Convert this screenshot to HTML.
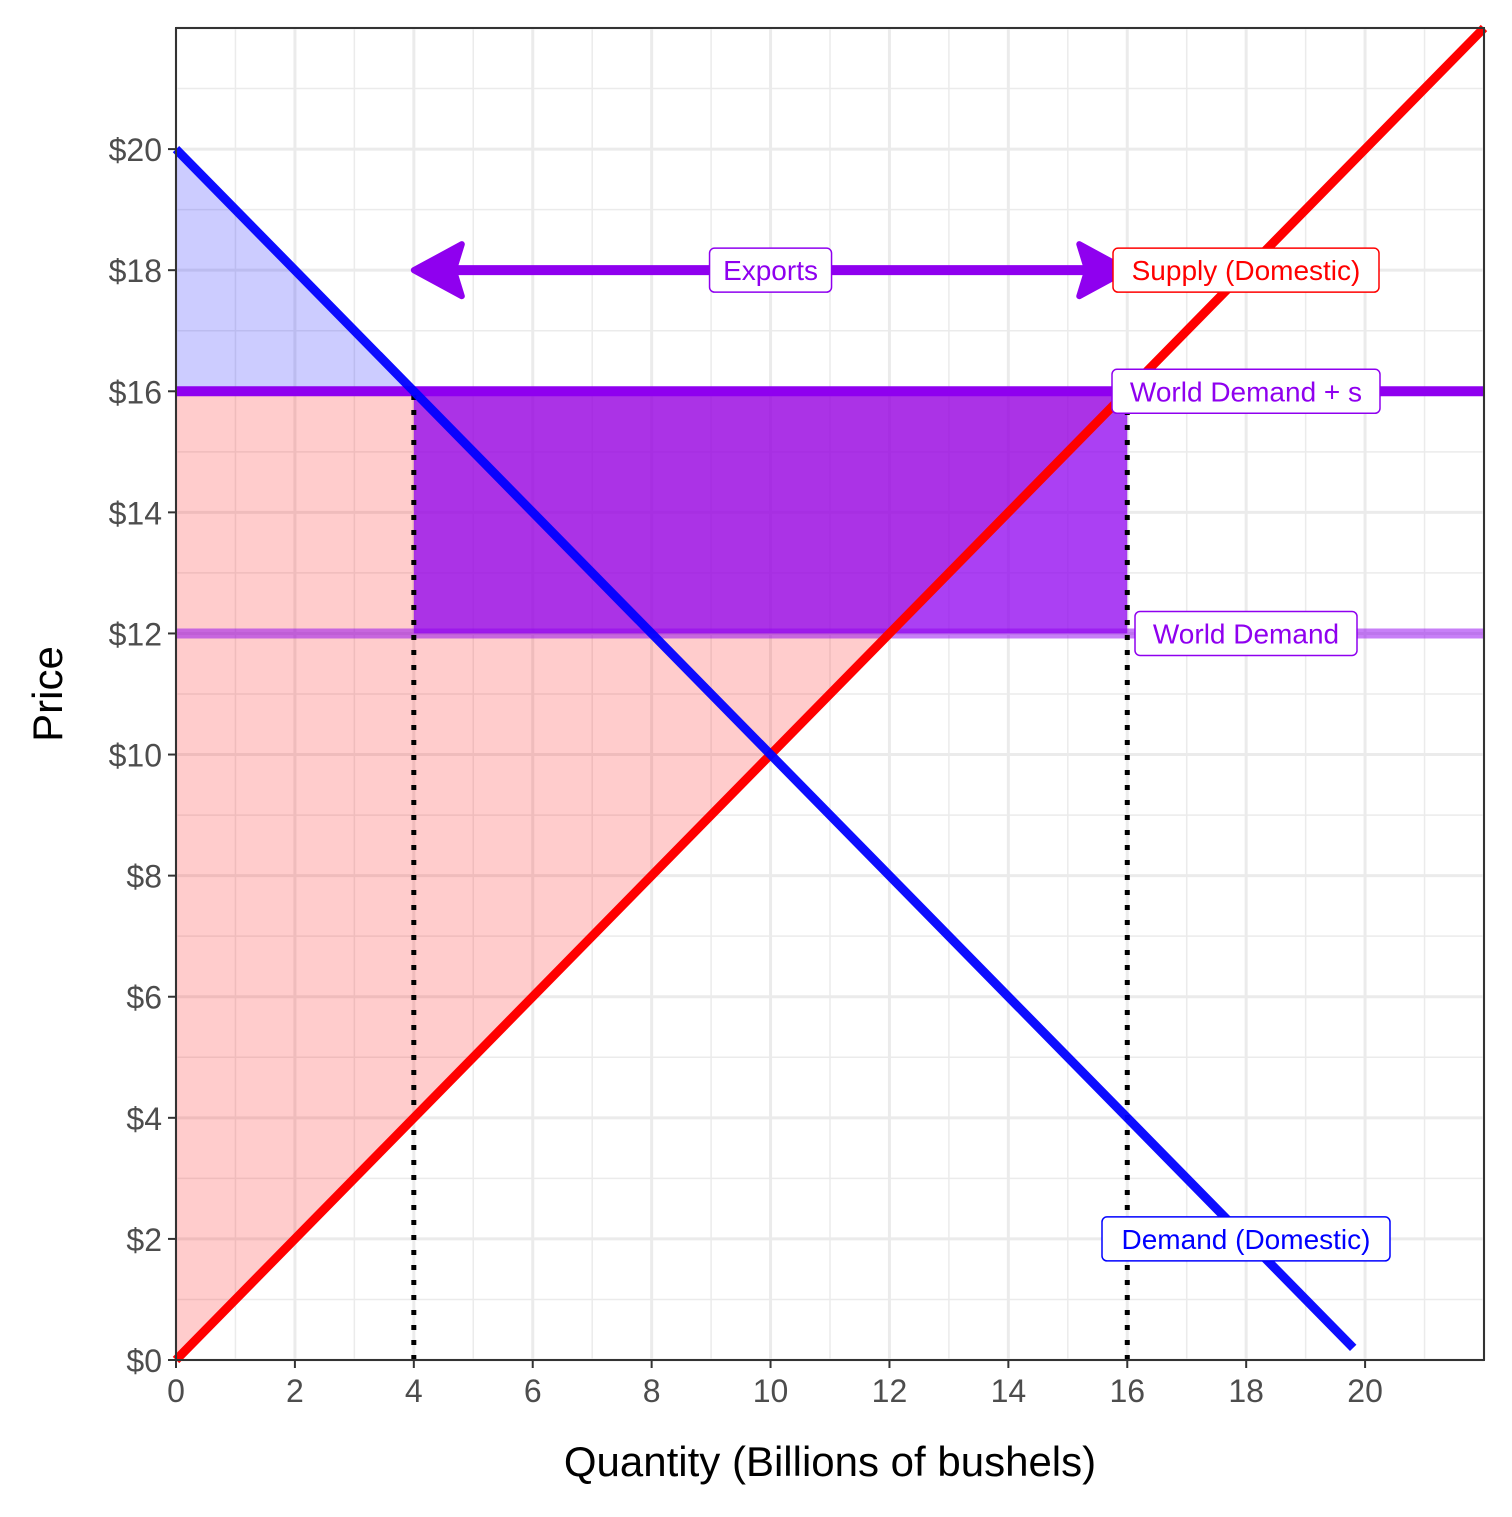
<!DOCTYPE html>
<html><head><meta charset="utf-8"><style>
html,body{margin:0;padding:0;background:#fff}
svg text{font-family:"Liberation Sans Narrow","Liberation Sans",sans-serif}
</style></head><body>
<svg id="chart" width="1512" height="1512" xmlns="http://www.w3.org/2000/svg">
<rect width="1512" height="1512" fill="#fff"/>
<g id="grid"></g>
<g id="areas"></g>
<g id="lines"></g>
<g id="labels"></g>
<rect x="176" y="28" width="1308" height="1332" fill="none" stroke="#333" stroke-width="2"/>
<g id="axes"></g>
<text x="830" y="1476" font-size="42" text-anchor="middle" fill="#000">Quantity (Billions of bushels)</text>
<text transform="translate(62,694) rotate(-90)" font-size="42" text-anchor="middle" fill="#000">Price</text>
</svg>
<script>
const xTicks=[0,2,4,6,8,10,12,14,16,18,20];
const yTicks=[0,2,4,6,8,10,12,14,16,18,20];
const supply=[[0,0],[22,22]];
const demand=[[0,20],[19.8,0.2]];
const worldPrice=12;
const worldPriceSubsidy=16;
const qDemanded=4;
const qSupplied=16;
const arrowY=18;
const X0=176,X1=1484,Y0=1360,Y1=28,XMAX=22,YMAX=22;
const sx=v=>X0+v*(X1-X0)/XMAX, sy=v=>Y0-v*(Y0-Y1)/YMAX;
const NS="http://www.w3.org/2000/svg";
function mk(p,t,a){const e=document.createElementNS(NS,t);for(const k in a)e.setAttribute(k,a[k]);p.appendChild(e);return e;}
const grid=document.getElementById('grid'),areas=document.getElementById('areas'),lines=document.getElementById('lines'),labels=document.getElementById('labels'),axes=document.getElementById('axes');
for(let v=0;v<=XMAX;v++){const l=mk(grid,'line',{x1:sx(v),x2:sx(v),y1:Y0,y2:Y1,stroke:'#ebebeb','stroke-width':v%2?1.5:3});

}
for(let v=0;v<=YMAX;v++){const l=mk(grid,'line',{y1:sy(v),y2:sy(v),x1:X0,x2:X1,stroke:'#ebebeb','stroke-width':v%2?1.5:3});

}
// areas
const ps=mk(areas,'polygon',{points:`${sx(0)},${sy(0)} ${sx(0)},${sy(worldPriceSubsidy)} ${sx(worldPriceSubsidy)},${sy(worldPriceSubsidy)}`,fill:'rgba(255,0,0,0.2)'});


const cs=mk(areas,'polygon',{points:`${sx(0)},${sy(worldPriceSubsidy)} ${sx(0)},${sy(20)} ${sx(qDemanded)},${sy(worldPriceSubsidy)}`,fill:'rgba(0,0,255,0.2)'});


const sub=mk(areas,'rect',{x:sx(qDemanded),y:sy(worldPriceSubsidy),width:sx(qSupplied)-sx(qDemanded),height:sy(worldPrice)-sy(worldPriceSubsidy),fill:'rgba(143,0,239,0.75)'});


// lines
const wd=mk(lines,'line',{x1:X0,x2:X1,y1:sy(worldPrice),y2:sy(worldPrice),stroke:'rgba(143,0,239,0.5)','stroke-width':10});


const wds=mk(lines,'line',{x1:X0,x2:X1,y1:sy(worldPriceSubsidy),y2:sy(worldPriceSubsidy),stroke:'#8f00ef','stroke-width':10});


[qDemanded,qSupplied].forEach(q=>{const d=mk(lines,'line',{x1:sx(q),x2:sx(q),y1:sy(0),y2:sy(worldPriceSubsidy),stroke:'#000','stroke-width':5,'stroke-dasharray':'5 10'});

});
const sl=mk(lines,'line',{x1:sx(supply[0][0]),y1:sy(supply[0][1]),x2:sx(supply[1][0]),y2:sy(supply[1][1]),stroke:'#ff0000','stroke-width':9});


const dl=mk(lines,'line',{x1:sx(demand[0][0]),y1:sy(demand[0][1]),x2:sx(demand[1][0]),y2:sy(demand[1][1]),stroke:'#0000ff','stroke-width':9,'stroke-opacity':0.95});


// arrow
const ay=sy(arrowY),ax1=sx(qDemanded),ax2=sx(qSupplied);
const ar=mk(lines,'line',{x1:ax1+30,x2:ax2-30,y1:ay,y2:ay,stroke:'#8f00ef','stroke-width':10});


const h1=mk(lines,'polygon',{points:`${ax1},${ay} ${ax1+48},${ay-26} ${ax1+40},${ay} ${ax1+48},${ay+26}`,fill:'#8f00ef',stroke:'#8f00ef','stroke-width':6,'stroke-linejoin':'round'});


const h2=mk(lines,'polygon',{points:`${ax2},${ay} ${ax2-48},${ay-26} ${ax2-40},${ay} ${ax2-48},${ay+26}`,fill:'#8f00ef',stroke:'#8f00ef','stroke-width':6,'stroke-linejoin':'round'});


// labels
function lab(txt,cx,cy,col,w,name){const g=mk(labels,'g',{});


mk(g,'rect',{x:cx-w/2,y:cy-22,width:w,height:44,rx:5,fill:'#fff',stroke:col,'stroke-width':1.5});
const t=mk(g,'text',{x:cx,y:cy+10,'font-size':28,'text-anchor':'middle',fill:col});t.textContent=txt;}
lab('Exports',(ax1+ax2)/2,ay,'#8f00ef',122,'exports-label');
lab('Supply (Domestic)',1246,sy(18),'#ff0000',266,'supply-label');
lab('World Demand + s',1246,sy(16),'#8f00ef',268,'world-demand-subsidy-label');
lab('World Demand',1246,sy(12),'#8f00ef',222,'world-demand-label');
lab('Demand (Domestic)',1246,sy(2),'#0000ff',288,'demand-label');
// axes
xTicks.forEach(v=>{const l=mk(axes,'line',{x1:sx(v),x2:sx(v),y1:Y0,y2:Y0+8,stroke:'#333','stroke-width':2});


const t=mk(axes,'text',{x:sx(v),y:Y0+42,'font-size':32,'text-anchor':'middle',fill:'#4d4d4d'});t.textContent=v;

});
yTicks.forEach(v=>{const l=mk(axes,'line',{x1:X0-8,x2:X0,y1:sy(v),y2:sy(v),stroke:'#333','stroke-width':2});


const t=mk(axes,'text',{x:X0-14,y:sy(v)+12,'font-size':32,'text-anchor':'end',fill:'#4d4d4d'});t.textContent='$'+v;

});
</script>
</body></html>
